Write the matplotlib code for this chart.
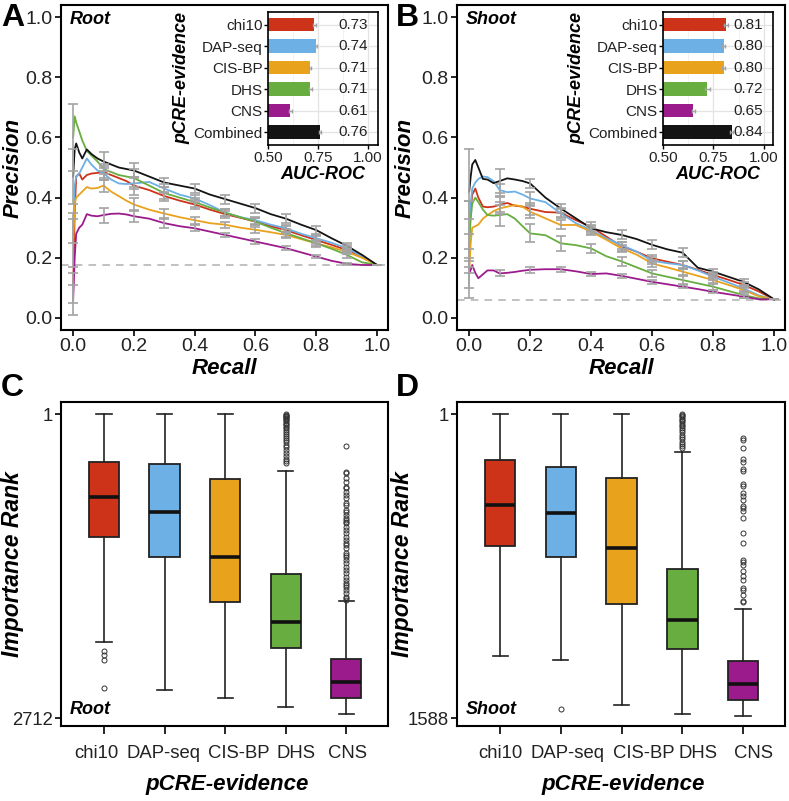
import numpy as np
import matplotlib
matplotlib.use('Agg')
import matplotlib.pyplot as plt
import matplotlib.transforms as mtransforms

plt.rcParams['font.family'] = ['Liberation Sans', 'DejaVu Sans']

# ==============================================================================
# DATA
# ==============================================================================
evidence = ['chi10', 'DAP-seq', 'CIS-BP', 'DHS', 'CNS', 'Combined']
colours = ['#cc3319', '#6cb0e6', '#e9a21c', '#67ad3f', '#9c1b8c', '#141414']

recall = [0, .005, .01, .02, .03, .045, .06, .08, .1, .125, .15, .175, .2, .25, .3,
          .35, .4, .45, .5, .55, .6, .65, .7, .75, .8, .85, .9, .95, 1.0]
bar_recall = [0, 0.1, 0.2, 0.3, 0.4, 0.5, 0.6, 0.7, 0.8, 0.9, 1.0]

# Root precision-recall curves
root_chi10 = [0.10, 0.35, 0.47, 0.48, 0.46, 0.475, 0.48, 0.482, 0.485, 0.475, 0.465, 0.455, 0.44, 0.425, 0.405,
              0.39, 0.377, 0.36, 0.345, 0.333, 0.32, 0.305, 0.292, 0.275, 0.259, 0.243, 0.226, 0.205, 0.176]
root_dap = [0.30, 0.44, 0.47, 0.48, 0.50, 0.53, 0.51, 0.49, 0.48, 0.46, 0.447, 0.445, 0.447, 0.452, 0.43,
            0.41, 0.397, 0.375, 0.35, 0.335, 0.325, 0.31, 0.298, 0.28, 0.265, 0.25, 0.232, 0.205, 0.176]
root_cisbp = [0.25, 0.38, 0.40, 0.41, 0.42, 0.435, 0.43, 0.432, 0.44, 0.42, 0.405, 0.39, 0.377, 0.36, 0.347,
              0.335, 0.325, 0.315, 0.31, 0.30, 0.293, 0.285, 0.276, 0.262, 0.248, 0.235, 0.22, 0.20, 0.176]
root_dhs = [0.60, 0.67, 0.65, 0.62, 0.59, 0.555, 0.54, 0.52, 0.495, 0.485, 0.475, 0.47, 0.465, 0.44, 0.415,
            0.40, 0.385, 0.367, 0.35, 0.335, 0.32, 0.30, 0.282, 0.265, 0.248, 0.23, 0.21, 0.185, 0.176]
root_cns = [0.06, 0.20, 0.28, 0.30, 0.31, 0.345, 0.34, 0.338, 0.342, 0.346, 0.347, 0.344, 0.338, 0.33, 0.315,
            0.305, 0.298, 0.287, 0.276, 0.265, 0.254, 0.243, 0.232, 0.218, 0.204, 0.19, 0.18, 0.176, 0.176]
root_comb = [0.47, 0.56, 0.58, 0.55, 0.53, 0.56, 0.545, 0.53, 0.52, 0.51, 0.50, 0.495, 0.49, 0.47, 0.45,
             0.44, 0.43, 0.41, 0.395, 0.38, 0.365, 0.345, 0.33, 0.31, 0.292, 0.265, 0.24, 0.21, 0.176]

# Root error bar half-widths at bar_recall
root_chi10_err = [0.05, 0.02, 0.03, 0.015, 0.015, 0.012, 0.012, 0.012, 0.012, 0.01, 0]
root_dap_err = [0.05, 0.02, 0.02, 0.015, 0.012, 0.012, 0.012, 0.012, 0.012, 0.01, 0]
root_cisbp_err = [0.08, 0.02, 0.02, 0.015, 0.012, 0.01, 0.01, 0.01, 0.01, 0.008, 0]
root_dhs_err = [0.11, 0.015, 0.03, 0.02, 0.015, 0.012, 0.012, 0.012, 0.012, 0.01, 0]
root_cns_err = [0.05, 0.025, 0.02, 0.015, 0.01, 0.008, 0.008, 0.006, 0.005, 0.004, 0]
root_comb_err = [0.09, 0.03, 0.025, 0.015, 0.015, 0.015, 0.015, 0.015, 0.012, 0.01, 0]

# Shoot precision-recall curves
shoot_chi10 = [0.27, 0.36, 0.41, 0.43, 0.40, 0.37, 0.368, 0.37, 0.376, 0.382, 0.373, 0.37, 0.363, 0.352, 0.35,
               0.325, 0.303, 0.27, 0.238, 0.22, 0.198, 0.187, 0.176, 0.16, 0.143, 0.127, 0.11, 0.088, 0.062]
shoot_dap = [0.29, 0.38, 0.43, 0.45, 0.462, 0.47, 0.468, 0.455, 0.425, 0.418, 0.42, 0.41, 0.397, 0.385, 0.348,
             0.315, 0.292, 0.265, 0.242, 0.22, 0.19, 0.182, 0.176, 0.158, 0.137, 0.118, 0.098, 0.075, 0.062]
shoot_cisbp = [0.15, 0.25, 0.30, 0.305, 0.31, 0.33, 0.342, 0.355, 0.364, 0.37, 0.375, 0.37, 0.353, 0.331, 0.309,
               0.309, 0.287, 0.26, 0.231, 0.21, 0.181, 0.168, 0.154, 0.14, 0.126, 0.11, 0.093, 0.072, 0.062]
shoot_dhs = [0.25, 0.33, 0.38, 0.40, 0.385, 0.36, 0.342, 0.34, 0.342, 0.345, 0.33, 0.305, 0.281, 0.275, 0.248,
             0.242, 0.231, 0.205, 0.188, 0.168, 0.148, 0.137, 0.126, 0.115, 0.104, 0.09, 0.076, 0.065, 0.062]
shoot_cns = [0.148, 0.16, 0.176, 0.15, 0.132, 0.145, 0.158, 0.158, 0.148, 0.15, 0.153, 0.157, 0.16, 0.162, 0.162,
             0.155, 0.146, 0.148, 0.14, 0.13, 0.12, 0.112, 0.104, 0.096, 0.087, 0.079, 0.071, 0.062, 0.062]
shoot_comb = [0.42, 0.47, 0.51, 0.525, 0.50, 0.462, 0.46, 0.448, 0.455, 0.464, 0.46, 0.455, 0.447, 0.40, 0.364,
              0.331, 0.298, 0.285, 0.276, 0.262, 0.243, 0.228, 0.217, 0.167, 0.154, 0.137, 0.12, 0.095, 0.062]

shoot_chi10_err = [0.12, 0.025, 0.02, 0.015, 0.015, 0.015, 0.012, 0.012, 0.01, 0.008, 0]
shoot_dap_err = [0.1, 0.02, 0.02, 0.015, 0.012, 0.012, 0.012, 0.012, 0.01, 0.008, 0]
shoot_cisbp_err = [0.05, 0.02, 0.02, 0.015, 0.012, 0.012, 0.012, 0.012, 0.01, 0.008, 0]
shoot_dhs_err = [0.08, 0.035, 0.03, 0.025, 0.015, 0.015, 0.012, 0.012, 0.01, 0.008, 0]
shoot_cns_err = [0.08, 0.01, 0.01, 0.008, 0.006, 0.006, 0.006, 0.006, 0.005, 0.004, 0]
shoot_comb_err = [0.14, 0.04, 0.015, 0.015, 0.012, 0.015, 0.015, 0.015, 0.01, 0.01, 0]

root_baseline = 0.176
shoot_baseline = 0.06

# AUC-ROC insets
root_auc = [0.73, 0.74, 0.71, 0.71, 0.61, 0.76]
root_auc_err = [0.007, 0.006, 0.006, 0.007, 0.007, 0.006]
shoot_auc = [0.81, 0.80, 0.80, 0.72, 0.65, 0.84]
shoot_auc_err = [0.01, 0.008, 0.008, 0.012, 0.008, 0.006]

# Importance rank box plots (rank 1 = most important)
box_groups = ['chi10', 'DAP-seq', 'CIS-BP', 'DHS', 'CNS']
root_rank_max = 2712
root_whis_top = [1, 1, 1, 507, 1669]
root_q1 = [426, 450, 581, 1425, 2189]
root_med = [744, 878, 1274, 1859, 2388]
root_q3 = [1101, 1276, 1680, 2085, 2537]
root_whis_bot = [2032, 2462, 2531, 2617, 2676]
root_out_chi10 = [2115, 2151, 2196, 2442]
root_out_dap = []
root_out_cisbp = []
root_out_dhs = [1, 8, 15, 22, 30, 38, 47, 56, 66, 77, 88, 100, 113, 127, 142, 158, 175, 193,
                212, 232, 253, 275, 298, 322, 347, 372, 398, 420, 441]
root_out_cns = [283, 515, 530, 575, 605, 649, 664, 694, 723, 753, 798, 813, 857, 872, 902, 931, 946,
                961, 976, 1006, 1036, 1065, 1095, 1125, 1154, 1169, 1199, 1243, 1258, 1273, 1303,
                1333, 1362, 1392, 1422, 1452, 1481, 1511, 1526, 1541, 1571, 1600, 1630, 1645, 1660]

shoot_rank_max = 1588
shoot_whis_top = [1, 1, 1, 199, 1020]
shoot_q1 = [241, 276, 333, 810, 1291]
shoot_med = [475, 520, 698, 1076, 1411]
shoot_q3 = [691, 748, 994, 1226, 1492]
shoot_whis_bot = [1265, 1286, 1521, 1569, 1578]
shoot_out_chi10 = []
shoot_out_dap = [1542]
shoot_out_cisbp = []
shoot_out_dhs = [1, 6, 12, 18, 25, 32, 40, 48, 57, 66, 76, 86, 97, 108, 120, 132, 145, 158, 170, 178]
shoot_out_cns = [124, 136, 176, 237, 250, 289, 298, 368, 377, 412, 429, 450, 482, 491, 508, 543,
                 622, 674, 761, 774, 788, 823, 849, 866, 910, 919, 945, 975, 980]

# ==============================================================================
# STYLING HELPERS
# ==============================================================================
TICK_COL = '#222222'
BAR_GREY = '#a3a3a3'


def style_frame(ax, labelsize=14):
    for s in ax.spines.values():
        s.set_linewidth(1.5)
        s.set_color('black')
    ax.tick_params(direction='out', length=4, width=1.2, color='black',
                   labelsize=labelsize, labelcolor=TICK_COL, pad=2)


def draw_pr(ax, curves, errs, baseline, tissue, auc, auc_err, inset_rect, label_x):
    idx = [recall.index(r) for r in bar_recall]
    ax.axhline(baseline, color='#b0b0b0', lw=1.1, ls=(0, (5, 4)), zorder=1)
    for prec, col in zip(curves, colours):
        ax.plot(recall, prec, color=col, lw=1.3, zorder=2)
    for prec, err in zip(curves, errs):
        ax.errorbar(bar_recall, [prec[i] for i in idx], yerr=err, fmt='none',
                    ecolor=BAR_GREY, elinewidth=1.2, capsize=3.6, capthick=1.2, zorder=3)
    ax.set_xlim(-0.04, 1.036)
    ax.set_ylim(-0.04, 1.04)
    ax.set_xticks(np.arange(0, 1.01, 0.2))
    ax.set_yticks(np.arange(0, 1.01, 0.2))
    ax.xaxis.set_major_formatter(plt.FormatStrFormatter('%.1f'))
    ax.yaxis.set_major_formatter(plt.FormatStrFormatter('%.1f'))
    style_frame(ax)
    ax.set_xlabel('Recall', fontsize=16, fontweight='bold', style='italic', va='center')
    ax.set_ylabel('Precision', fontsize=16, fontweight='bold', style='italic', va='center')
    ax.xaxis.set_label_coords(0.5, -0.117)
    ax.yaxis.set_label_coords(label_x, 0.5)
    ax.text(0.028, 0.955, tissue, transform=ax.transAxes, fontsize=13,
            fontweight='bold', style='italic', ha='left', va='center')

    # AUC-ROC inset
    ins = fig.add_axes(inset_rect, zorder=5)
    pos = np.arange(len(evidence))
    ins.set_axisbelow(True)
    ins.set_xticks([0.625, 0.875], minor=True)
    ins.grid(which='major', color='#e3e3e3', lw=0.9)
    ins.grid(which='minor', axis='x', color='#f0f0f0', lw=0.6)
    ins.barh(pos, auc, height=0.62, color=colours, zorder=2)
    ins.errorbar(auc, pos, xerr=auc_err, fmt='none', ecolor=BAR_GREY,
                 elinewidth=1.0, capsize=1.5, zorder=3)
    for p, v in zip(pos, auc):
        ins.text(0.925, p, f'{v:.2f}', ha='center', va='center', fontsize=11,
                 color=TICK_COL, zorder=4)
    ins.set_xlim(0.5, 1.048)
    ins.set_ylim(5.6, -0.6)
    ins.set_yticks(pos)
    ins.set_yticklabels(evidence)
    ins.set_xticks([0.5, 0.75, 1.0])
    ins.set_xticklabels(['0.50', '0.75', '1.00'])
    for s in ins.spines.values():
        s.set_linewidth(1.2)
    ins.tick_params(which='major', direction='out', length=3, width=1, labelsize=11,
                    labelcolor=TICK_COL, pad=1)
    ins.tick_params(which='minor', length=0)
    ins.set_xlabel('AUC-ROC', fontsize=13, fontweight='bold', style='italic', labelpad=1)
    ins.set_ylabel('pCRE-evidence', fontsize=13, fontweight='bold', style='italic', labelpad=2)


def draw_box(ax, whis_top, q1, med, q3, whis_bot, outliers, rank_max, tissue, label_x, label_shift):
    stats = []
    for i in range(len(box_groups)):
        stats.append({'whislo': whis_top[i], 'q1': q1[i], 'med': med[i], 'q3': q3[i],
                      'whishi': whis_bot[i], 'fliers': outliers[i]})
    bp = ax.bxp(stats, positions=np.arange(1, 6), widths=0.5, capwidths=0.25,
                patch_artist=True, showfliers=True,
                boxprops=dict(edgecolor='#222222', linewidth=1.3),
                whiskerprops=dict(color='#222222', linewidth=1.2),
                capprops=dict(color='#222222', linewidth=1.2),
                medianprops=dict(color='#111111', linewidth=2.6),
                flierprops=dict(marker='o', markerfacecolor='none', markeredgecolor='#333333',
                                markersize=3.6, markeredgewidth=0.7))
    for patch, col in zip(bp['boxes'], colours[:5]):
        patch.set_facecolor(col)
    ax.set_xlim(0.29, 5.69)
    span = rank_max - 1
    ax.set_ylim(rank_max + span * 0.0263, 1 - span * 0.0395)
    ax.set_yticks([1, rank_max])
    ax.set_yticklabels(['1', str(rank_max)])
    ax.set_xticks(np.arange(1, 6))
    ax.set_xticklabels(box_groups)
    style_frame(ax, labelsize=13.3)
    ax.tick_params(axis='x', length=5.5, pad=8)
    # the labels sit a little off-centre under their ticks in the original
    for lab, dx in zip(ax.get_xticklabels(), label_shift):
        lab.set_transform(lab.get_transform() +
                          mtransforms.ScaledTranslation(dx / 100, 0, fig.dpi_scale_trans))
    ax.set_xlabel('pCRE-evidence', fontsize=16, fontweight='bold', style='italic', va='center')
    ax.set_ylabel('Importance Rank', fontsize=16.5, fontweight='bold', style='italic', va='center')
    ax.xaxis.set_label_coords(0.507, -0.182)
    ax.yaxis.set_label_coords(label_x, 0.5)
    ax.text(0.028, 0.05, tissue, transform=ax.transAxes, fontsize=13,
            fontweight='bold', style='italic', ha='left', va='center')


# ==============================================================================
# FIGURE
# ==============================================================================
W, H = 789, 801
fig = plt.figure(figsize=(W / 100, H / 100), dpi=100)


def px_rect(x0, y0, x1, y1):
    return [x0 / W, 1 - y1 / H, (x1 - x0) / W, (y1 - y0) / H]


ax_a = fig.add_axes(px_rect(61, 5, 388, 330))
ax_b = fig.add_axes(px_rect(457, 5, 785, 330))
ax_c = fig.add_axes(px_rect(61, 402, 388, 726))
ax_d = fig.add_axes(px_rect(457, 402, 785, 726))

draw_pr(ax_a, [root_chi10, root_dap, root_cisbp, root_dhs, root_cns, root_comb],
        [root_chi10_err, root_dap_err, root_cisbp_err, root_dhs_err, root_cns_err, root_comb_err],
        root_baseline, 'Root', root_auc, root_auc_err, px_rect(268.3, 11.7, 377.7, 145), -0.147)
draw_pr(ax_b, [shoot_chi10, shoot_dap, shoot_cisbp, shoot_dhs, shoot_cns, shoot_comb],
        [shoot_chi10_err, shoot_dap_err, shoot_cisbp_err, shoot_dhs_err, shoot_cns_err, shoot_comb_err],
        shoot_baseline, 'Shoot', shoot_auc, shoot_auc_err, px_rect(663.3, 11.7, 773.3, 145), -0.159)

draw_box(ax_c, root_whis_top, root_q1, root_med, root_q3, root_whis_bot,
         [root_out_chi10, root_out_dap, root_out_cisbp, root_out_dhs, root_out_cns],
         root_rank_max, 'Root', -0.147, [-8, -1, 14, 10, 1])
draw_box(ax_d, shoot_whis_top, shoot_q1, shoot_med, shoot_q3, shoot_whis_bot,
         [shoot_out_chi10, shoot_out_dap, shoot_out_cisbp, shoot_out_dhs, shoot_out_cns],
         shoot_rank_max, 'Shoot', -0.165, [0, 7, 22, 16, 10])

for letter, x, y in [('A', 1, 3), ('B', 396, 3), ('C', 1, 373), ('D', 396, 373)]:
    fig.text(x / W, 1 - y / H, letter, fontsize=23, fontweight='bold', ha='left', va='top')

fig.savefig('out.png', dpi=100)
